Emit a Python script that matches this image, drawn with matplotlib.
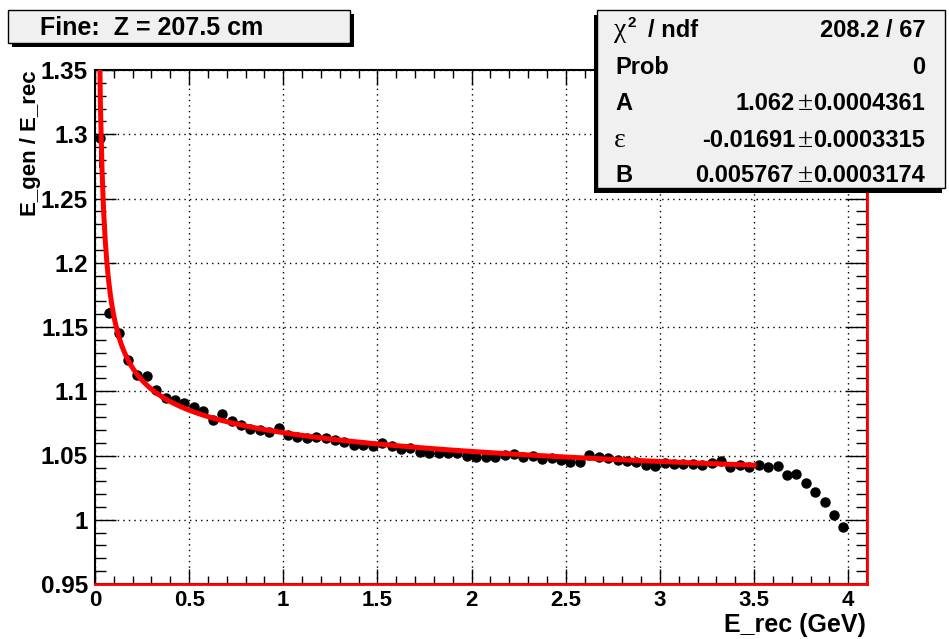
import numpy as np
import matplotlib
matplotlib.use("Agg")
import matplotlib.pyplot as plt
from matplotlib import font_manager
from matplotlib.patches import Rectangle
from matplotlib.transforms import Affine2D

# data (bin centres, 0.05 GeV bins)
e_rec = np.arange(80) * 0.05 + 0.025
ratio = [1.297, 1.161, 1.145, 1.124, 1.113, 1.112, 1.101, 1.095, 1.093, 1.091,
         1.0875, 1.085, 1.078, 1.082, 1.0767, 1.074, 1.071, 1.070, 1.068, 1.0712,
         1.066, 1.0642, 1.0638, 1.0645, 1.0634, 1.0621, 1.0608, 1.0582, 1.0582, 1.0573,
         1.0595, 1.0574, 1.0552, 1.0556, 1.0526, 1.052, 1.052, 1.0517, 1.0517, 1.0499,
         1.0491, 1.0491, 1.0488, 1.0504, 1.0512, 1.0491, 1.0496, 1.047, 1.0478, 1.0465,
         1.0452, 1.0452, 1.0504, 1.0491, 1.0478, 1.0465, 1.046, 1.0452, 1.0426, 1.0418,
         1.0439, 1.0434, 1.0434, 1.0437, 1.0426, 1.0442, 1.0455, 1.0407, 1.0426, 1.0413,
         1.0426, 1.0408, 1.0418, 1.0348, 1.0356, 1.0289, 1.0214, 1.0137, 1.0037, 0.9941]
ratio_err = [0.023, 0.004] + [0.0] * 78

# fit result from the stats box: f = A + eps*ln(E) + B/E, fitted on 0..3.5 GeV
fit_A = 1.062
fit_eps = -0.01691
fit_B = 0.005767
fit_max = 3.5

# narrow font for the x axis if there is one
try:
    font_manager.findfont("Liberation Sans Narrow", fallback_to_default=False)
    narrow = "Liberation Sans Narrow"
except ValueError:
    narrow = "Liberation Sans"

W, H = 949, 639
fig = plt.figure(figsize=(W / 100, H / 100), dpi=100)
pix = Affine2D().scale(1, -1).translate(0, H)  # pixel coords, origin top-left

ax = fig.add_axes([95 / W, 1 - 584 / H, (867 - 95) / W, (584 - 70) / H])

ax.errorbar(e_rec, ratio, yerr=ratio_err, fmt="o", color="black", ms=6.5,
            elinewidth=1.2, capsize=0, zorder=2)

x_fit = np.linspace(0.02, fit_max, 400)
ax.plot(x_fit, fit_A + fit_eps * np.log(x_fit) + fit_B / x_fit,
        color="#ff0000", lw=3.6, zorder=3)

ax.set_xlim(0, 4.1)
ax.set_ylim(0.95, 1.35)
ax.set_xticks(np.arange(0, 4.01, 0.5))
ax.set_xticks(np.arange(0, 4.1, 0.1), minor=True)
ax.set_yticks(np.arange(0.95, 1.351, 0.05))
ax.set_yticks(np.arange(0.95, 1.351, 0.01), minor=True)
ax.set_xticklabels(["0", "0.5", "1", "1.5", "2", "2.5", "3", "3.5", "4"])
ax.set_yticklabels(["0.95", "1", "1.05", "1.1", "1.15", "1.2", "1.25", "1.3", "1.35"])

ax.tick_params(which="both", direction="in", top=True, right=True, width=1)
ax.tick_params(axis="x", which="major", length=11, pad=4)
ax.tick_params(axis="x", which="minor", length=5.5)
ax.tick_params(axis="y", which="major", length=15, pad=5)
ax.tick_params(axis="y", which="minor", length=8)
for lab in ax.get_xticklabels():
    lab.set_family(narrow)
    lab.set_weight("bold")
    lab.set_fontsize(16)
for lab in ax.get_yticklabels():
    lab.set_family("Liberation Sans")
    lab.set_weight("bold")
    lab.set_fontsize(17.5)

ax.grid(True, which="major", color="black", linestyle=(0, (1, 3)), lw=1)
for s in ax.spines.values():
    s.set_linewidth(1.5)

# red edge lines at bottom and right
ax.plot([0, 1], [0, 0], transform=ax.transAxes, color="#ff0000", lw=2, clip_on=False, zorder=4)
ax.plot([1, 1], [0, 1], transform=ax.transAxes, color="#ff0000", lw=2, clip_on=False, zorder=4)

fig.text(866, 632, "E_rec (GeV)", transform=pix, ha="right", va="baseline",
         family=narrow, weight="bold", fontsize=18)
fig.text(31, 70, "E_gen / E_rec", transform=pix, ha="center", va="top", rotation=90,
         family="Liberation Sans", weight="bold", fontsize=16)

# title box with shadow
fig.patches.append(Rectangle((12, 47), 342, -33, transform=pix, facecolor="black",
                             edgecolor="black", lw=0, zorder=5))
fig.patches.append(Rectangle((8, 43), 342, -33, transform=pix, facecolor="#f0f0f0",
                             edgecolor="black", lw=1, zorder=6))
fig.text(40, 35, "Fine:  Z = 207.5 cm", transform=pix, family="Liberation Sans",
         weight="bold", fontsize=18, va="baseline", zorder=7)

# stats box with shadow
fig.patches.append(Rectangle((594, 193), 348, -178, transform=pix, facecolor="black",
                             edgecolor="black", lw=0, zorder=5))
fig.patches.append(Rectangle((597, 188), 348, -178, transform=pix, facecolor="#f0f0f0",
                             edgecolor="black", lw=1, zorder=6))

renderer = fig.canvas.get_renderer()
sans = dict(family="Liberation Sans", weight="bold", fontsize=17)
serif = dict(family="Liberation Serif", weight="normal", fontsize=20)


def pieces(x, y, parts, align="left"):
    # draw text pieces next to each other, starting at x (left) or ending at x (right)
    if align == "right":
        parts = parts[::-1]
    for txt, style, gap in parts:
        t = fig.text(x, y, txt, transform=pix, va="baseline", ha=align, zorder=7, **style)
        w = t.get_window_extent(renderer).width
        x = x + w + gap if align == "left" else x - w - gap


stat_rows = [37, 74, 110, 147, 182]
small = dict(family="Liberation Sans", weight="bold", fontsize=11)
fig.text(614, stat_rows[0], "\u03c7", transform=pix, va="baseline", zorder=7, **serif)
fig.text(628, stat_rows[0] - 10, "2", transform=pix, va="baseline", zorder=7, **small)
fig.text(648, stat_rows[0], "/ ndf", transform=pix, va="baseline", zorder=7, **sans)
fig.text(615, stat_rows[1], "Prob", transform=pix, va="baseline", zorder=7, **sans)
fig.text(615, stat_rows[2], "A", transform=pix, va="baseline", zorder=7, **sans)
fig.text(614, stat_rows[3], "\u03b5", transform=pix, va="baseline", zorder=7, **serif)
fig.text(615, stat_rows[4], "B", transform=pix, va="baseline", zorder=7, **sans)

fig.text(925, stat_rows[0], "208.2 / 67", transform=pix, va="baseline", ha="right", zorder=7, **sans)
fig.text(925, stat_rows[1], "0", transform=pix, va="baseline", ha="right", zorder=7, **sans)
pieces(925, stat_rows[2], [("1.062", sans, 2), ("\u00b1", serif, 3), ("0.0004361", sans, 0)], "right")
pieces(925, stat_rows[3], [("-0.01691", sans, 2), ("\u00b1", serif, 3), ("0.0003315", sans, 0)], "right")
pieces(925, stat_rows[4], [("0.005767", sans, 5), ("\u00b1", serif, 5), ("0.0003174", sans, 0)], "right")

fig.savefig("out.png", dpi=100)
